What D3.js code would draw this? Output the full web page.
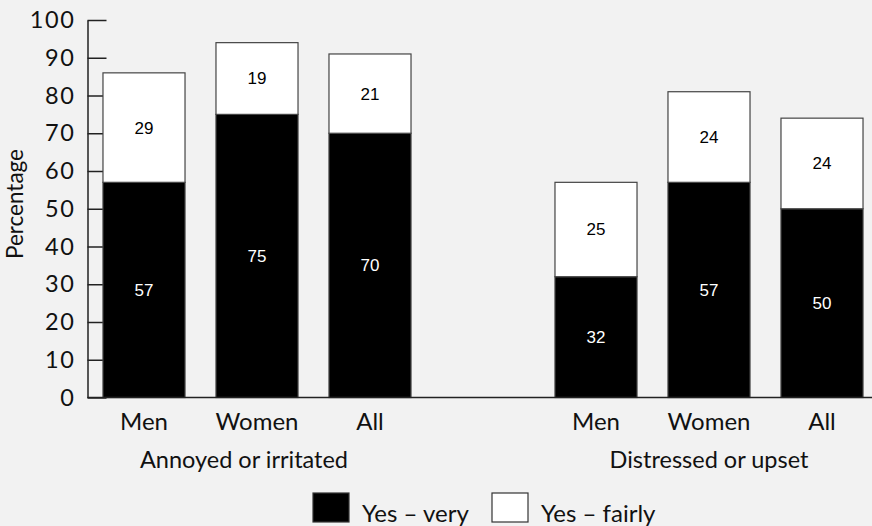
<!DOCTYPE html>
<html><head><meta charset="utf-8">
<script src="https://cdn.jsdelivr.net/npm/d3@7"></script>
<style>
html,body{margin:0;padding:0;background:#f2f2f2;}
svg{display:block;}
</style></head>
<body>
<svg id="chart" width="872" height="526"></svg>
<script>
const groups = ["Annoyed or irritated", "Distressed or upset"];
const categories = ["Men", "Women", "All"];
const veryAnnoyed = [57, 75, 70];
const fairlyAnnoyed = [29, 19, 21];
const veryDistressed = [32, 57, 50];
const fairlyDistressed = [25, 24, 24];
const yTicks = [0, 10, 20, 30, 40, 50, 60, 70, 80, 90, 100];
const legendLabels = ["Yes – very", "Yes – fairly"];

const rows = [];
categories.forEach((c, i) => rows.push({key: "A-" + c, group: 0, cat: c, very: veryAnnoyed[i], fairly: fairlyAnnoyed[i]}));
categories.forEach((c, i) => rows.push({key: "D-" + c, group: 1, cat: c, very: veryDistressed[i], fairly: fairlyDistressed[i]}));
const domain = rows.slice(0, 3).map(d => d.key).concat(["gap"], rows.slice(3).map(d => d.key));

const svg = d3.select("#chart");
const axisX = 87.5, baseY = 397.5, topY = 20;
const x = d3.scaleBand().domain(domain).range([axisX, axisX + 7 * 113]).paddingInner(0.274).paddingOuter(0.137);
const y = d3.scaleLinear().domain([0, 100]).range([baseY, topY]);

const sans = "Lato, 'Open Sans', sans-serif";

// y axis
const yAxis = d3.axisLeft(y).tickValues(yTicks).tickSizeInner(-19).tickSizeOuter(0).tickPadding(12);
const gy = svg.append("g").attr("transform", `translate(${axisX},0)`).call(yAxis);
gy.selectAll("path,line").attr("stroke", "#222").attr("stroke-width", 1.5);
gy.selectAll("text").attr("font-family", sans).attr("font-size", 23.5).attr("letter-spacing", "1.6px").attr("fill", "#111");

// bars
const stack = [];
rows.forEach(r => {
  stack.push({r, y0: 0, y1: r.very, v: r.very, fill: "#000", tc: "#fff"});
  stack.push({r, y0: r.very, y1: r.very + r.fairly, v: r.fairly, fill: "#fff", tc: "#000"});
});
svg.append("g").selectAll("rect").data(stack).join("rect")
  .attr("x", d => x(d.r.key)).attr("width", x.bandwidth())
  .attr("y", d => y(d.y1)).attr("height", d => y(d.y0) - y(d.y1))
  .attr("fill", d => d.fill).attr("stroke", "#444").attr("stroke-width", 1.2);
svg.append("g").selectAll("text").data(stack).join("text")
  .attr("x", d => x(d.r.key) + x.bandwidth() / 2)
  .attr("y", d => y((d.y0 + d.y1) / 2))
  .attr("dy", "0.35em").attr("text-anchor", "middle")
  .attr("font-family", "'Liberation Sans', Arial, sans-serif").attr("font-size", 17)
  .attr("fill", d => d.tc).text(d => d.v);

// baseline
svg.append("line").attr("x1", axisX).attr("x2", 872).attr("y1", baseY).attr("y2", baseY)
  .attr("stroke", "#222").attr("stroke-width", 1.5);

// category labels
svg.append("g").selectAll("text").data(rows).join("text")
  .attr("x", d => x(d.key) + x.bandwidth() / 2).attr("y", 430)
  .attr("text-anchor", "middle").attr("font-family", sans).attr("font-size", 24).attr("fill", "#111")
  .text(d => d.cat);

// group labels
groups.forEach((g, gi) => {
  const mid = rows.filter(r => r.group === gi)[1];
  svg.append("text").attr("x", x(mid.key) + x.bandwidth() / 2 - (gi === 0 ? 13 : 0)).attr("y", 468)
    .attr("text-anchor", "middle").attr("font-family", sans).attr("font-size", 23.5).attr("fill", "#111")
    .text(g);
});

// y title
svg.append("text").attr("transform", "translate(23,204) rotate(-90)")
  .attr("text-anchor", "middle").attr("font-family", sans).attr("font-size", 22.5).attr("fill", "#111")
  .text("Percentage");

// legend
const legend = [{fill: "#000", label: legendLabels[0], x: 313}, {fill: "#fff", label: legendLabels[1], x: 492}];
const lg = svg.append("g").selectAll("g").data(legend).join("g").attr("transform", d => `translate(${d.x},493)`);
lg.append("rect").attr("width", 36).attr("height", 29).attr("fill", d => d.fill).attr("stroke", "#333").attr("stroke-width", 1.2);
lg.append("text").attr("x", 49).attr("y", 29).attr("font-family", sans).attr("font-size", 24).attr("fill", "#111").text(d => d.label);
</script>
</body></html>
